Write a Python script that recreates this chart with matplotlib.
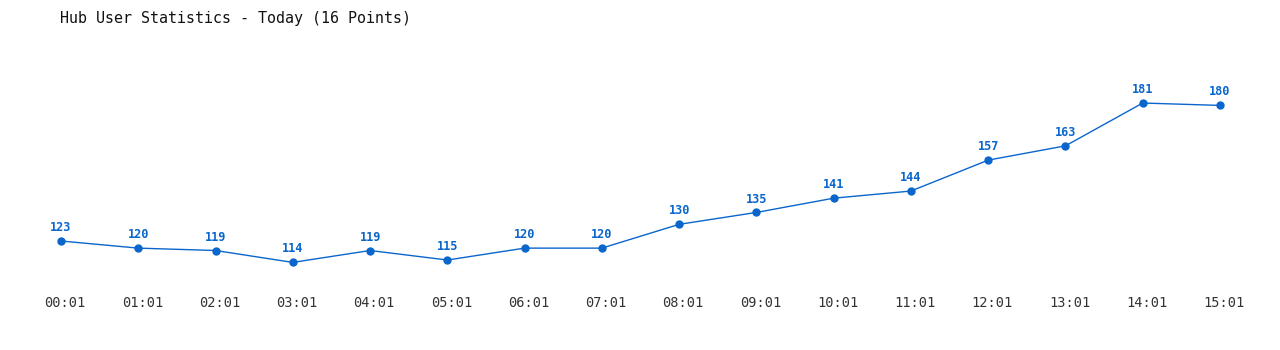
import matplotlib
matplotlib.use("Agg")
import matplotlib.pyplot as plt
import matplotlib.transforms as mtransforms

times = ["00:01", "01:01", "02:01", "03:01", "04:01", "05:01", "06:01", "07:01",
         "08:01", "09:01", "10:01", "11:01", "12:01", "13:01", "14:01", "15:01"]
users = [123, 120, 119, 114, 119, 115, 120, 120, 130, 135, 141, 144, 157, 163, 181, 180]

color = "#0a66cc"
W, H = 1280, 350
fig = plt.figure(figsize=(W / 100, H / 100), dpi=100)
# axes pixel box: left 20, right 1260, top 40, bottom 285
ax = fig.add_axes([20 / W, (H - 285) / H, 1240 / W, 245 / H])
x = list(range(len(users)))
ax.plot(x, users, color=color, lw=1, marker="o", ms=5, mec=color, mfc=color)
for xi, v in zip(x, users):
    ax.annotate(str(v), (xi, v), xytext=(0, 5), textcoords="offset points",
                ha="center", va="bottom", color=color, fontsize=8.6,
                fontweight="bold", family="DejaVu Sans Mono")
ax.set_xlim(-0.531, 15.518)
ax.set_ylim(104.5, 207.5)
ax.set_xticks(x)
ax.set_xticklabels(times, family="DejaVu Sans Mono", fontsize=9.8, color="#333333")
ax.tick_params(axis="x", length=0, pad=8)
shift = mtransforms.ScaledTranslation(4 / 100, 0, fig.dpi_scale_trans)
for lbl in ax.get_xticklabels():
    lbl.set_transform(lbl.get_transform() + shift)
ax.set_yticks([])
for s in ax.spines.values():
    s.set_visible(False)
fig.text(60 / W, 1 - 18 / H, "Hub User Statistics - Today (16 Points)",
         family="DejaVu Sans Mono", fontsize=10.8, va="center", ha="left", color="#111111")
fig.savefig("out.png", dpi=100)
